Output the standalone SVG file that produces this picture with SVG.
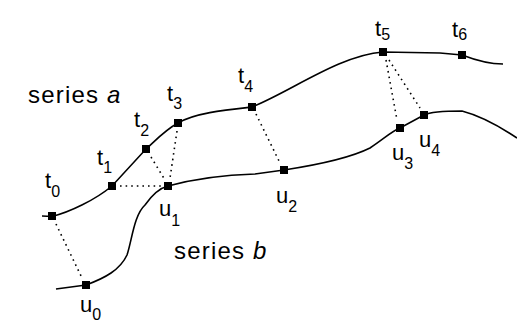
<svg xmlns="http://www.w3.org/2000/svg" width="517" height="323" viewBox="0 0 517 323">
<style>
.curve{fill:none;stroke:#000;stroke-width:1.6}
.dot{fill:none;stroke:#000;stroke-width:1.6;stroke-dasharray:1.6 4}
.m{fill:#000}
text{font-family:"Liberation Sans",Arial,sans-serif;font-size:22px;fill:#000}
.sub{font-size:16px}
.ser{font-size:24px;letter-spacing:1.2px}
</style>
<rect width="517" height="323" fill="#fff"/>
<g id="connectors">
<path class="curve" d="M42,216 L52,216.5 C70,212 95,200 112,186 L146,149 C155,141 165,130 178,123 C195,113 225,110 252,107 C290,92 340,55 383,52 L440,53 L462,55 C475,60 490,64 503,64"/>
<path class="curve" d="M56,289 L86,285 C105,278 120,270 127,255 C132,240 134,215 145,205 C152,195 160,188 168,186 C190,180 220,175 255,174 L284,170 C310,166 350,158 370,148 C385,138 392,131 400,128 L424,115 C430,112 440,111 462,111 C485,117 505,130 517,138"/>
<line class="dot" x1="56" y1="224" x2="82" y2="278"/>
<line class="dot" x1="120" y1="186" x2="162" y2="186"/>
<line class="dot" x1="151" y1="157" x2="165" y2="180"/>
<line class="dot" x1="177" y1="131" x2="170" y2="178"/>
<line class="dot" x1="256" y1="114" x2="280" y2="163"/>
<line class="dot" x1="386" y1="60" x2="397" y2="120"/>
<line class="dot" x1="389" y1="60" x2="420" y2="108"/>
</g>
<g id="t0"><rect class="m" x="48" y="212" width="8" height="8"/><text x="45" y="188">t<tspan class="sub" dy="9">0</tspan></text></g>
<g id="t1"><rect class="m" x="108" y="182" width="8" height="8"/><text x="97" y="165">t<tspan class="sub" dy="8">1</tspan></text></g>
<g id="t2"><rect class="m" x="142" y="145" width="8" height="8"/><text x="134" y="127">t<tspan class="sub" dy="9">2</tspan></text></g>
<g id="t3"><rect class="m" x="174" y="119" width="8" height="8"/><text x="167" y="101">t<tspan class="sub" dy="8">3</tspan></text></g>
<g id="t4"><rect class="m" x="248" y="103" width="8" height="8"/><text x="238" y="83">t<tspan class="sub" dy="9">4</tspan></text></g>
<g id="t5"><rect class="m" x="379" y="48" width="8" height="8"/><text x="375" y="36">t<tspan class="sub" dy="4">5</tspan></text></g>
<g id="t6"><rect class="m" x="458" y="51" width="8" height="8"/><text x="452" y="37">t<tspan class="sub" dy="3">6</tspan></text></g>
<g id="u0"><rect class="m" x="82" y="281" width="8" height="8"/><text x="80" y="312">u<tspan class="sub" dy="8">0</tspan></text></g>
<g id="u1"><rect class="m" x="164" y="182" width="8" height="8"/><text x="159" y="216">u<tspan class="sub" dy="10">1</tspan></text></g>
<g id="u2"><rect class="m" x="280" y="166" width="8" height="8"/><text x="276" y="203">u<tspan class="sub" dy="9">2</tspan></text></g>
<g id="u3"><rect class="m" x="396" y="124" width="8" height="8"/><text x="392" y="160">u<tspan class="sub" dy="9">3</tspan></text></g>
<g id="u4"><rect class="m" x="420" y="111" width="8" height="8"/><text x="419" y="147">u<tspan class="sub" dy="9">4</tspan></text></g>
<g id="series-a"><text class="ser" x="28" y="103">series <tspan font-style="italic">a</tspan></text></g>
<g id="series-b"><text class="ser" x="174" y="259">series <tspan font-style="italic">b</tspan></text></g>
</svg>
